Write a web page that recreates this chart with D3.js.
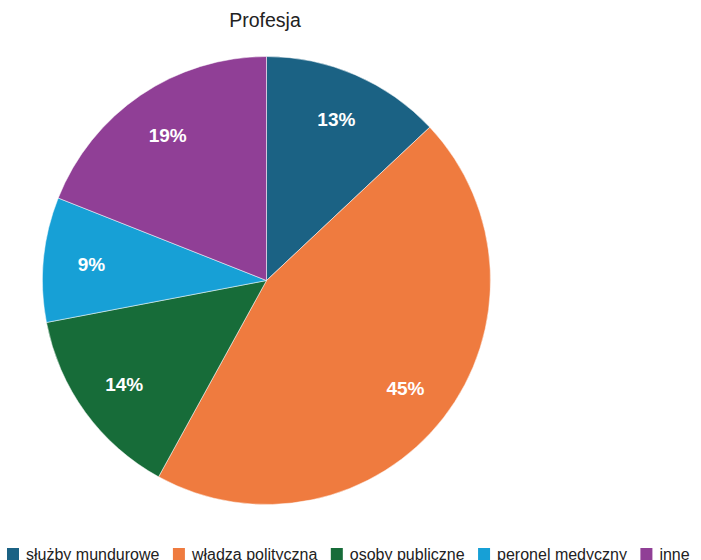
<!DOCTYPE html>
<html>
<head>
<meta charset="utf-8">
<script src="https://cdn.jsdelivr.net/npm/d3@7"></script>
<style>
  html, body { margin: 0; padding: 0; background: #ffffff; }
  svg { display: block; font-family: Arial, "Liberation Sans", Helvetica, sans-serif; }
</style>
</head>
<body>
<svg id="chart" width="701" height="560"></svg>
<script>
// Share of each profession (percent)
const categories = ["służby mundurowe", "władza polityczna", "osoby publiczne", "peronel medyczny", "inne"];
const values = [13, 45, 14, 9, 19];
const colors = ["#1b6284", "#ef7b3f", "#176c39", "#17a0d6", "#903f96"];
const title = "Profesja";

const width = 701, height = 560;
const cx = 266.5, cy = 280.5, radius = 224;

const svg = d3.select("#chart");

// Title
svg.append("text")
  .attr("x", 265)
  .attr("y", 27)
  .attr("text-anchor", "middle")
  .attr("font-size", 19.5)
  .attr("fill", "#222")
  .text(title);

const data = categories.map((c, i) => ({ name: c, value: values[i], color: colors[i] }));
const pie = d3.pie().sort(null).value(d => d.value);
const arcs = pie(data);
const arc = d3.arc().innerRadius(0).outerRadius(radius);
const labelArc = d3.arc().innerRadius(radius * 0.785).outerRadius(radius * 0.785);

const g = svg.append("g").attr("transform", `translate(${cx},${cy})`);

g.selectAll("path.slice")
  .data(arcs)
  .join("path")
  .attr("class", "slice")
  .attr("d", arc)
  .attr("fill", d => d.data.color)
  .attr("stroke", "#ffffff")
  .attr("stroke-width", 0.5);

const fs = 19;
g.selectAll("text.pct")
  .data(arcs)
  .join("text")
  .attr("class", "pct")
  .attr("x", d => labelArc.centroid(d)[0])
  .attr("y", d => labelArc.centroid(d)[1] + fs * 0.36)
  .attr("text-anchor", "middle")
  .attr("font-size", fs)
  .attr("font-weight", "bold")
  .attr("fill", "#ffffff")
  .text(d => d.data.value + "%");

// Legend along the bottom edge
const legend = svg.append("g");
let lx = 7;
data.forEach(d => {
  legend.append("rect")
    .attr("x", lx)
    .attr("y", 548)
    .attr("width", 12)
    .attr("height", 12)
    .attr("fill", d.color);
  const t = legend.append("text")
    .attr("x", lx + 19)
    .attr("y", 560)
    .attr("font-size", 16)
    .attr("fill", "#222")
    .text(d.name);
  lx += 19 + t.node().getComputedTextLength() + 13.5;
});
</script>
</body>
</html>
